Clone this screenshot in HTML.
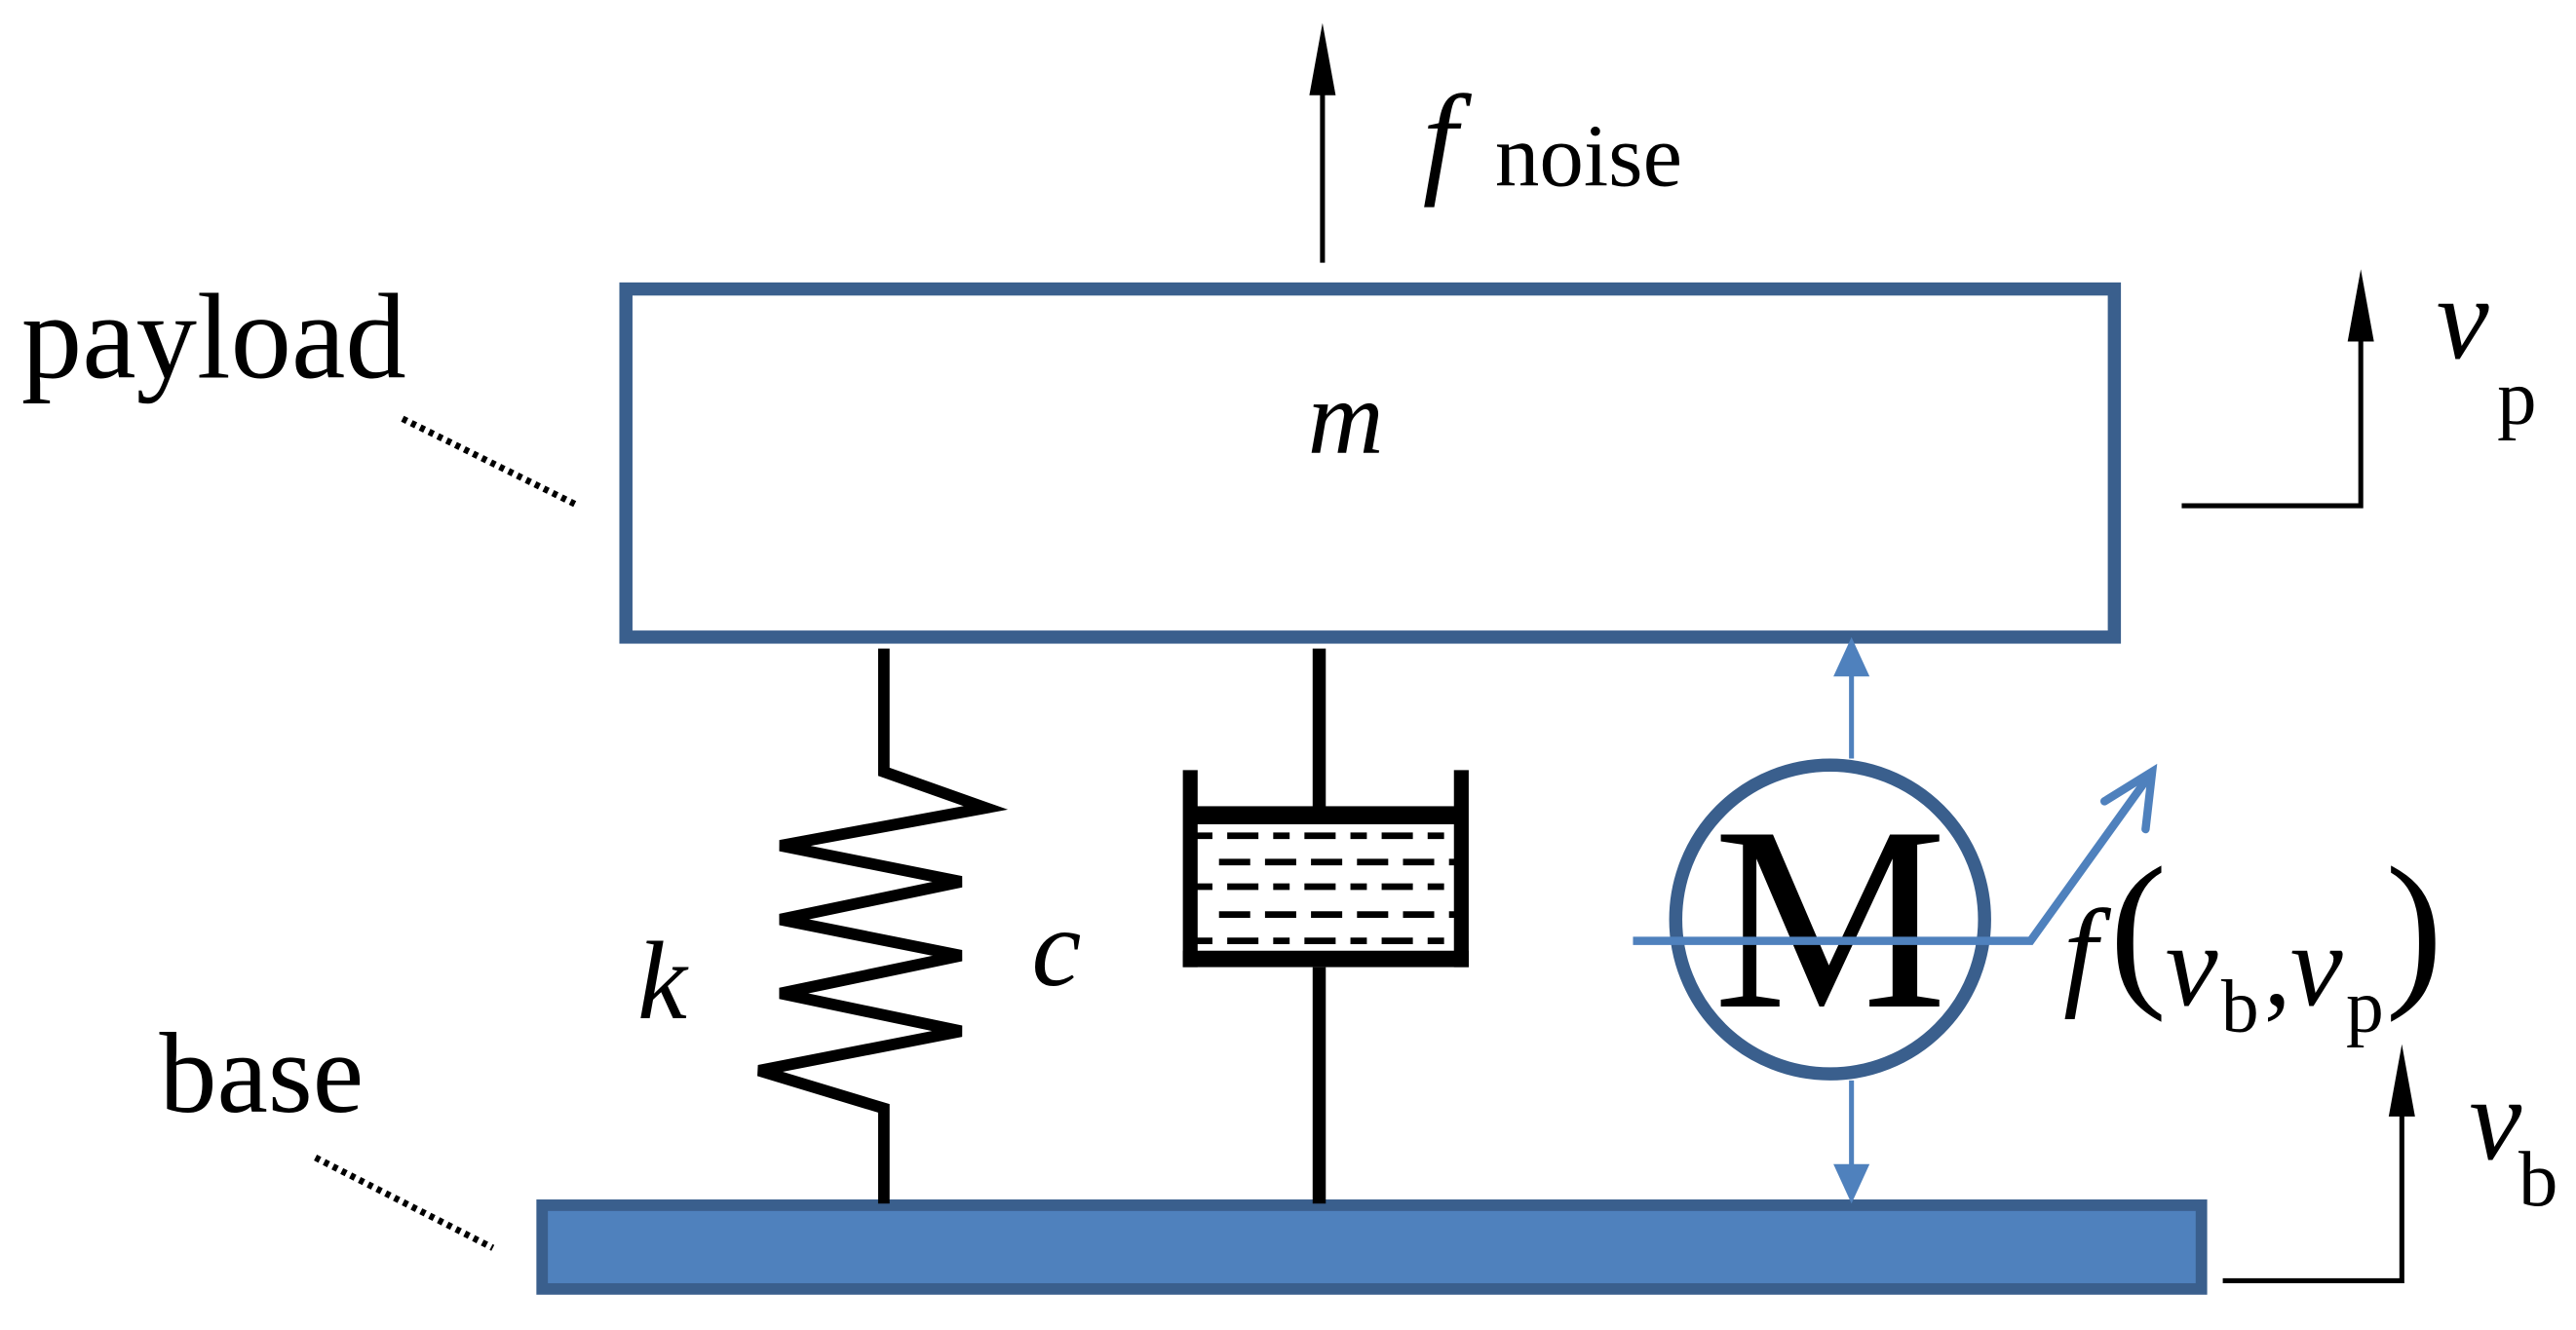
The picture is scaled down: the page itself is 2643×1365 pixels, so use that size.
<!DOCTYPE html>
<html><head><meta charset="utf-8"><style>
html,body{margin:0;padding:0;background:#fff;width:2643px;height:1365px;overflow:hidden}
svg{display:block}
text{font-family:"Liberation Serif",serif;fill:#000}
</style></head><body>
<svg width="2643" height="1365" viewBox="0 0 1568 810" preserveAspectRatio="none" xmlns="http://www.w3.org/2000/svg">
<!-- payload -->
<rect x="381" y="176" width="906" height="212" fill="#fff" stroke="#3a5f8d" stroke-width="8"/>
<text x="796" y="276" font-size="64" font-style="italic">m</text>
<!-- base -->
<rect x="330" y="734" width="1010" height="51" fill="#4f81bd" stroke="#3a5f8d" stroke-width="7"/>
<!-- labels -->
<text x="13" y="230" font-size="74">payload</text>
<line x1="245" y1="255" x2="352" y2="308" stroke="#000" stroke-width="4" stroke-dasharray="3,3"/>
<text x="97" y="677" font-size="70">base</text>
<line x1="192" y1="705" x2="300" y2="760" stroke="#000" stroke-width="4" stroke-dasharray="3,3"/>
<!-- f noise -->
<line x1="805" y1="160" x2="805" y2="50" stroke="#000" stroke-width="3"/>
<polygon points="805,14 797,58 813,58" fill="#000"/>
<text x="866" y="110" font-size="76" font-style="italic">f</text>
<text x="910" y="113" font-size="54">noise</text>
<!-- vp -->
<polyline points="1328,308 1437,308 1437,200" fill="none" stroke="#000" stroke-width="3"/>
<polygon points="1437,164 1429,208 1445,208" fill="#000"/>
<text x="1483" y="218" font-size="72" font-style="italic">v</text>
<text x="1520" y="258" font-size="48">p</text>
<!-- vb -->
<polyline points="1353,780 1462,780 1462,672" fill="none" stroke="#000" stroke-width="3"/>
<polygon points="1462,636 1454,680 1470,680" fill="#000"/>
<text x="1503" y="706" font-size="72" font-style="italic">v</text>
<text x="1533" y="734" font-size="48">b</text>
<!-- spring -->
<polyline points="538,395 538,470 600,492 475,515 585,537 475,560 585,582 475,605 585,628 462,652 538,675 538,733" fill="none" stroke="#000" stroke-width="7" stroke-linejoin="miter"/>
<text x="388" y="620" font-size="68" font-style="italic">k</text>
<text x="628" y="600" font-size="68" font-style="italic">c</text>
<!-- damper -->
<line x1="803" y1="395" x2="803" y2="496" stroke="#000" stroke-width="8"/>
<rect x="724" y="491" width="166" height="11" fill="#000"/>
<line x1="724.5" y1="469" x2="724.5" y2="589" stroke="#000" stroke-width="9"/>
<line x1="889.5" y1="469" x2="889.5" y2="589" stroke="#000" stroke-width="9"/>
<rect x="720" y="579" width="174" height="10" fill="#000"/>
<line x1="803" y1="589" x2="803" y2="733" stroke="#000" stroke-width="8"/>
<g stroke="#000" stroke-width="4">
<line x1="728" y1="509" x2="886" y2="509" stroke-dasharray="10,9,19,9"/>
<line x1="742" y1="525" x2="886" y2="525" stroke-dasharray="19,9"/>
<line x1="728" y1="540" x2="886" y2="540" stroke-dasharray="10,9,19,9"/>
<line x1="742" y1="557" x2="886" y2="557" stroke-dasharray="19,9"/>
<line x1="728" y1="573" x2="886" y2="573" stroke-dasharray="10,9,19,9"/>
</g>
<!-- motor -->
<line x1="1127" y1="462" x2="1127" y2="405" stroke="#4f81bd" stroke-width="3"/>
<polygon points="1127,388 1116,412 1138,412" fill="#4f81bd"/>
<line x1="1127" y1="658" x2="1127" y2="715" stroke="#4f81bd" stroke-width="3"/>
<polygon points="1127,733 1116,709 1138,709" fill="#4f81bd"/>
<circle cx="1114" cy="560" r="94" fill="#fff" stroke="#3a5f8d" stroke-width="8"/>
<text x="1114" y="613" font-size="160" text-anchor="middle">M</text>
<polyline points="994,573 1236,573 1310,470" fill="none" stroke="#4f81bd" stroke-width="5"/>
<polyline points="1281,488 1310,470 1306,505" fill="none" stroke="#4f81bd" stroke-width="5" stroke-linecap="round"/>
<!-- f(vb,vp) -->
<text x="1256" y="605" font-size="74" font-style="italic">f</text>
<text x="1284" y="600" font-size="105">(</text>
<text x="1318" y="612" font-size="72" font-style="italic">v</text>
<text x="1352" y="628" font-size="46">b</text>
<text x="1378" y="612" font-size="66">,</text>
<text x="1394" y="612" font-size="72" font-style="italic">v</text>
<text x="1428" y="628" font-size="46">p</text>
<text x="1452" y="600" font-size="105">)</text>
</svg>
</body></html>
